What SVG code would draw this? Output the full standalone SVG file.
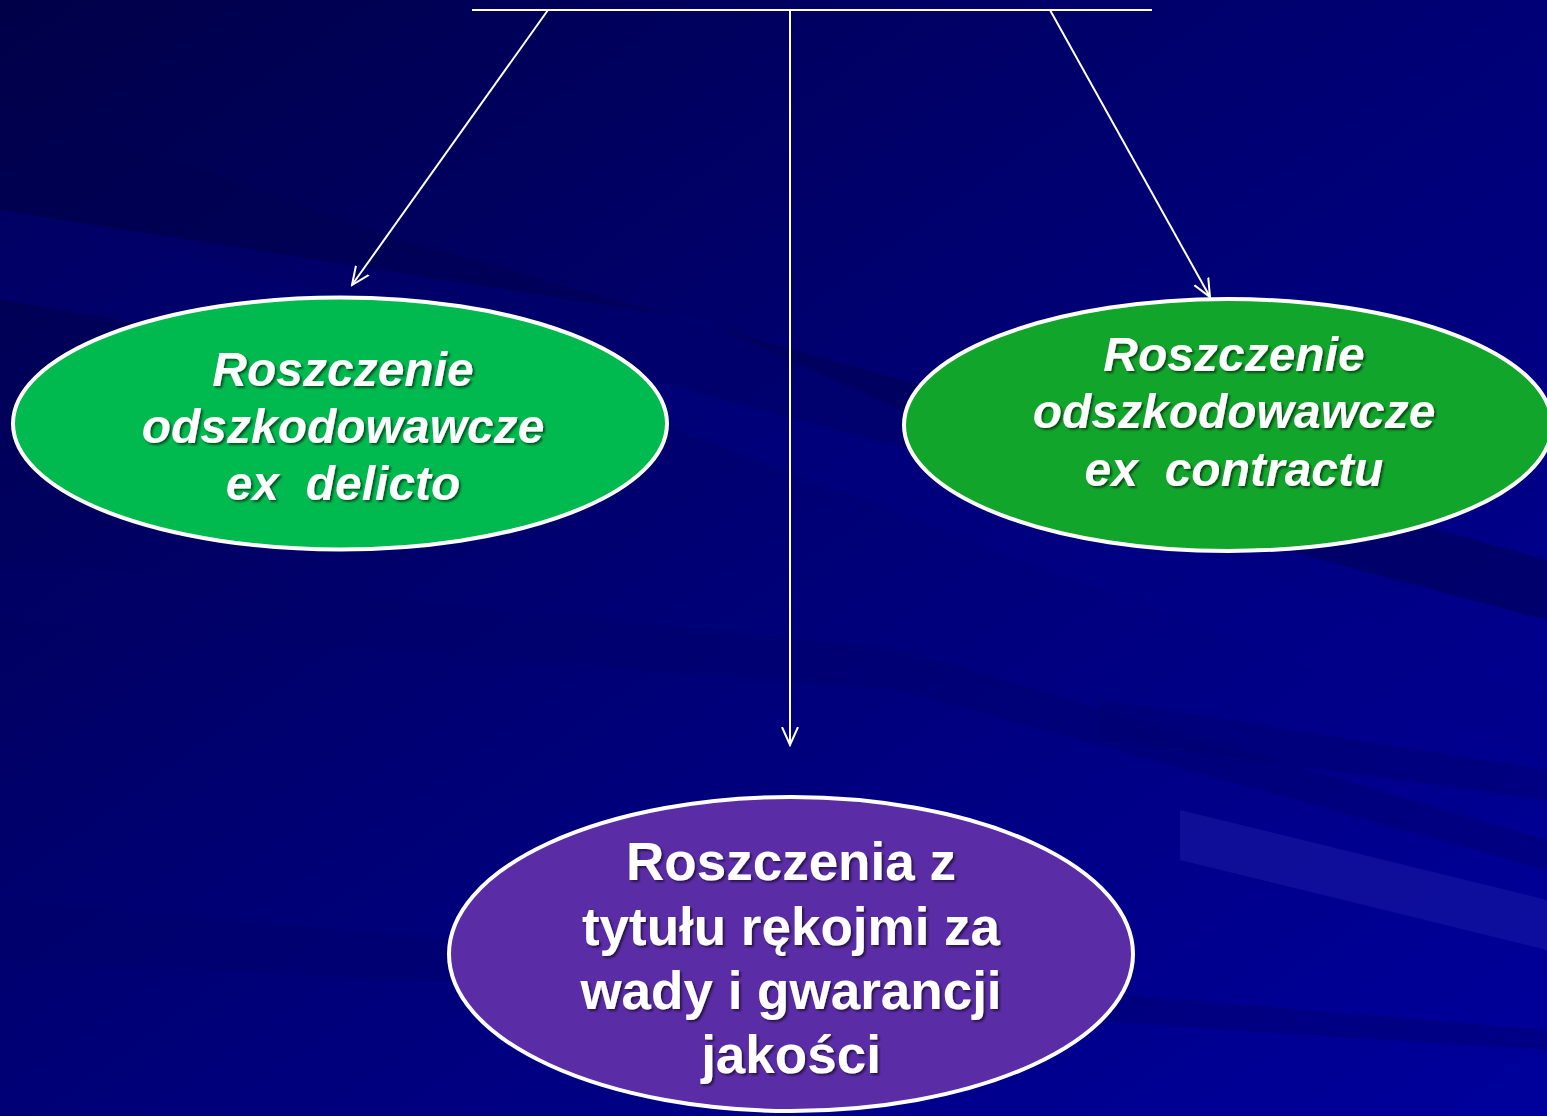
<svg xmlns="http://www.w3.org/2000/svg" width="1547" height="1116" viewBox="0 0 1547 1116">
<defs>
<linearGradient id="bg" x1="0" y1="0" x2="1" y2="1">
<stop offset="0" stop-color="#000048"/>
<stop offset="0.45" stop-color="#000072"/>
<stop offset="1" stop-color="#00009c"/>
</linearGradient>
<filter id="sh" x="-10%" y="-20%" width="120%" height="140%">
<feDropShadow dx="2" dy="2" stdDeviation="0.8" flood-color="#000" flood-opacity="0.55"/>
</filter>
<marker id="arr" viewBox="0 0 20 20" refX="18" refY="10" markerWidth="20" markerHeight="20" markerUnits="userSpaceOnUse" orient="auto">
<path d="M0,2 L18,10 L0,18" fill="none" stroke="#fff" stroke-width="2"/>
</marker>
<style>
.node{stroke:#fff;stroke-width:4}
.it{font-family:"Liberation Sans",Arial,sans-serif;font-weight:bold;font-style:italic;font-size:48px;fill:#fff;text-anchor:middle}
.bd{font-family:"Liberation Sans",Arial,sans-serif;font-weight:bold;font-size:53px;fill:#fff;text-anchor:middle}
.con{stroke:#fff;stroke-width:2;fill:none}
</style>
</defs>
<rect width="1547" height="1116" fill="url(#bg)"/>
<g id="streaks">
<polygon points="0,100 400,240 1547,560 1547,620 350,300 0,200" fill="#000050" opacity="0.5"/>
<polygon points="0,210 700,320 1547,700 1547,760 600,400 0,300" fill="#00008a" opacity="0.35"/>
<polygon points="0,560 900,650 1547,840 1547,870 900,690 0,620" fill="#00006a" opacity="0.4"/>
<polygon points="1180,810 1547,900 1547,950 1180,860" fill="#2020a8" opacity="0.45"/>
<polygon points="1100,700 1547,770 1547,800 1100,740" fill="#000070" opacity="0.5"/>
<polygon points="0,900 700,960 1547,1030 1547,1050 600,990 0,960" fill="#00006a" opacity="0.4"/>
</g>
<g id="connectors">
<line class="con" x1="472" y1="10" x2="1152" y2="10"/>
<line class="con" x1="548" y1="10" x2="352" y2="285" marker-end="url(#arr)"/>
<line class="con" x1="790" y1="10" x2="790" y2="745" marker-end="url(#arr)"/>
<line class="con" x1="1050" y1="10" x2="1210" y2="297" marker-end="url(#arr)"/>
</g>
<g id="node-delicto">
<ellipse class="node" cx="340" cy="423.5" rx="327" ry="126" fill="#00b94f"/>
<g filter="url(#sh)">
<text class="it" x="343" y="386">Roszczenie</text>
<text class="it" x="343" y="443">odszkodowawcze</text>
<text class="it" x="343" y="500" xml:space="preserve">ex  delicto</text>
</g>
</g>
<g id="node-contractu">
<ellipse class="node" cx="1228" cy="425" rx="324" ry="126" fill="#12a52c"/>
<g filter="url(#sh)">
<text class="it" x="1234" y="371">Roszczenie</text>
<text class="it" x="1234" y="428">odszkodowawcze</text>
<text class="it" x="1234" y="486" xml:space="preserve">ex  contractu</text>
</g>
</g>
<g id="node-rekojmia">
<ellipse class="node" cx="791" cy="954" rx="342" ry="157" fill="#5a2ca6"/>
<g filter="url(#sh)">
<text class="bd" x="791" y="880">Roszczenia z</text>
<text class="bd" x="791" y="945">tytułu rękojmi za</text>
<text class="bd" x="791" y="1009">wady i gwarancji</text>
<text class="bd" x="791" y="1073">jakości</text>
</g>
</g>
</svg>
